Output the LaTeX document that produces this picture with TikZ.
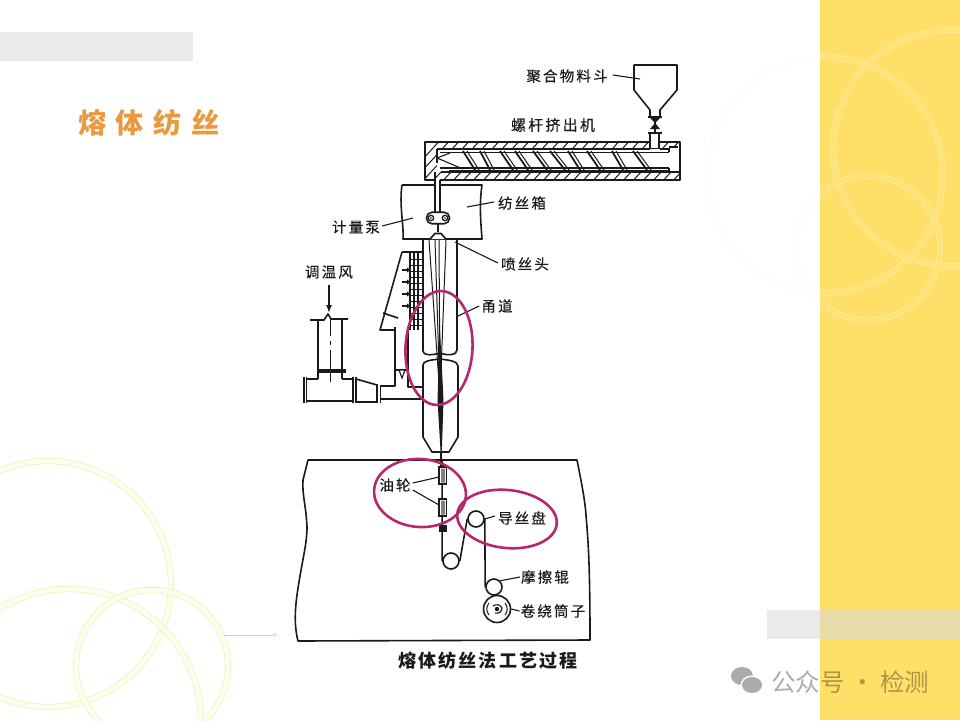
\documentclass[tikz,border=0pt]{standalone}
\usepackage{fontspec}
\newfontfamily\cjk{Noto Sans CJK SC}
\newfontfamily\cjkl[LetterSpace=15,FakeBold=.25]{Noto Sans CJK SC}
\usetikzlibrary{arrows.meta}
\definecolor{panel}{HTML}{FEE069}
\definecolor{ink}{HTML}{1A1A1A}
\definecolor{ringm}{HTML}{B5286E}
\definecolor{titleor}{HTML}{E99A40}
\definecolor{barg}{HTML}{EAEAEA}
\definecolor{bary}{HTML}{E8DCA8}
\definecolor{ringy}{HTML}{EDEFB0}
\definecolor{ringyin}{HTML}{FDFDEC}
\tikzset{
  mech/.style={draw=ink,line width=1.6pt,line join=round},
  fine/.style={draw=ink,line width=1pt},
  leader/.style={draw=ink,line width=1.1pt},
  lbl/.style={font=\cjkl\fontsize{14.5}{15}\selectfont,text=ink,inner sep=1pt},
  redring/.style={draw=ringm,line width=2.6pt},
  leftring/.style={draw=ringy,line width=.6pt,double=ringyin,double distance=5pt},
  sidering/.style={draw=panel!60!white,line width=.7pt,double=panel!90!white,double distance=4pt},
  rollr/.style={circle,draw=ink,line width=1.6pt,fill=white,inner sep=0pt,minimum size=#1},
}
\begin{document}
\begin{tikzpicture}[x=1pt,y=-1pt]
\useasboundingbox (0,0) rectangle (960,720);
\fill[white] (0,0) rectangle (960,720);
% faint rings on the white area
\draw[draw=black!.8,line width=5pt] (825,175) circle (118);
\draw[draw=black!.8,line width=5pt] (868,248) circle (72);
% yellow panel
\fill[panel] (820,0) rectangle (960,720);
\begin{scope}
\clip (820,0) rectangle (960,720);
\draw[sidering] (825,175) circle (118);
\draw[sidering] (951,148) circle (118);
\draw[sidering] (868,248) circle (72);
\end{scope}
% grey bars
\fill[barg] (0,32) rectangle (193,61);
\fill[barg] (767,610) rectangle (820,639);
\fill[bary] (820,610) rectangle (960,639);
% left rings
\draw[leftring] (48,584) circle (123);
\draw[leftring] (69,721) circle (132);
\draw[leftring] (152,666) circle (76);
\draw[draw=ringy!75!olive,line width=1pt] (224,635) -- (275,635);
\fill[ringy] (275,635) circle (2);
% page title
\node[font=\cjk\bfseries\fontsize{28}{30}\selectfont,text=titleor,inner sep=0pt] (pagetitle) at (149,123) {熔\hspace{10pt}体\hspace{10pt}纺\hspace{10pt}丝};

% ---- paper outline
\draw[mech] (308,460) -- (577,460)
  .. controls (581,480) and (585,500) .. (586,515)
  .. controls (588,540) and (590,560) .. (590,640)
  -- (298,641)
  .. controls (294,625) and (295,610) .. (297,595)
  .. controls (302,560) and (307,545) .. (307,527)
  .. controls (306,505) and (302,495) .. (303,480)
  -- cycle;

% ---- hopper
\draw[mech] (634,90) -- (634,65) -- (677,65) -- (677,90) -- (660,110) -- (660,116)
  (634,90) -- (650,110) -- (650,116);
% valve
\draw[mech] (648,117) -- (662,117) (648,133) -- (662,133) (655,118)--(655,133);
\fill[ink] (655,123) -- (650,118) -- (660,118) -- cycle;
\fill[ink] (655,123) -- (650,129) -- (660,129) -- cycle;

% ---- extruder: hatching
\begin{scope}
\clip (425,142) rectangle (680,149) (425,172) rectangle (680,180) (425,142) rectangle (437,180);
\foreach \x in {400,410,...,700}{ \draw[fine] (\x+44,136) -- (\x,184); }
\end{scope}
\fill[white] (437,149.5) rectangle (679,171.5);
\fill[white] (669,148) rectangle (679,172);
\draw[mech] (425,142) rectangle (680,180);
\draw[mech] (437,149) -- (650,149) (660,149) -- (669,149);
\draw[mech] (441,172) -- (680,172);
\draw[mech] (437,149) -- (437,163);
% feed throat
\fill[white,draw=ink,line width=1.6pt] (650,133) rectangle (659,148.5);
% right end of the barrel
\draw[mech] (669,148) -- (669,152) (669,168) -- (669,172) (669,147) -- (678,147);
% screw
\draw[mech,line width=1.3pt] (440,152.5) -- (669,152.5);
\draw[mech,line width=1.3pt] (440,168) -- (669,168);
\draw[fine] (449,170) -- (669,170);
\draw[mech,line width=1.1pt] (437,158) -- (450,153) (437,158) -- (463,169);
\foreach \a/\b in {463/475,480/490,500/513,515/528,533/547,550/565,568/580,587/600,612/623,633/647}{
  \draw[mech,line width=1.8pt] (\a,151) -- (\b,170);
  \draw[fine] (\a+4,151) -- (\b+4,170);
}
% ---- spinning box
\draw[mech] (402,185) -- (482,185) .. controls (479,205) and (481,225) .. (482,239) -- (403,239)
  .. controls (404,225) and (399,205) .. (402,185);
% melt pipe
\fill[white] (435,179) rectangle (440,214);
\draw[mech] (435,172) -- (435,213) (440,180) -- (440,213);
% pump
\node[draw=ink,line width=1.6pt,fill=white,rounded corners=5.5pt,minimum width=23pt,minimum height=11.5pt,inner sep=0pt] (pump) at (438,218) {};
\draw[mech,line width=1.3pt] (431,218) circle (2.7) (445,218) circle (2.7);
\fill[ink] (431,218) circle (.9) (445,218) circle (.9);
% spinneret
\draw[mech] (438,224) -- (438,232);
\fill[white,draw=ink,line width=1.6pt] (430,239) -- (435,233.5) -- (441,233.5) -- (446,239);

% ---- quench box
\draw[mech] (402,252) -- (423,252) (402,252) -- (380,330) -- (395,330);
\draw[mech] (383,313) -- (398,318);
\draw[mech] (395,327) -- (395,386) -- (380,386);
\draw[mech] (408,332) -- (408,387) -- (423,387);
\draw[mech] (381,399) -- (423,399);
\foreach \x in {410,414,418}{\draw[mech,line width=1.3pt] (\x,252) -- (\x,330);}
\foreach \y in {259,265,271,277,283,289,295,301,307,313,319,325}{\draw[fine,line width=.8pt] (410,\y) -- (423,\y);}
\foreach \y in {270,282,294,306}{
  \draw[ink,line width=2.2pt,-{Latex[length=4pt,width=5.5pt]}] (402,\y) -- (411,\y);
}
% damper
\draw[mech] (396,370) -- (408,370);
\fill[white,draw=ink,line width=1.1pt] (399,370) -- (405,370) -- (402,378) -- cycle;

% ---- air duct
\draw[mech] (318,379) -- (318,320) (310,320) -- (324,320) -- (328,314) -- (331,319) -- (348,319) (342,320) -- (342,379);
\draw[ink,line width=1.4pt,-{Latex[length=8pt,width=6pt]}] (329,285) -- (329,313);
\draw[fine] (330,319) -- (330,336) (330,341) -- (330,345) (330,350) -- (330,382);
\draw[ink,line width=3.4pt] (317,371) -- (346,371);
\draw[mech] (306,379) -- (318,379) (342,379) -- (353,379);
\draw[mech] (306,401) -- (353,401);
\draw[mech] (304,377) -- (304,403) (306.5,377) -- (306.5,403);
\draw[mech] (353,377) -- (353,403) (356,377) -- (356,403);
\draw[mech] (356,379) -- (377,385) (356,402) -- (377,402);
\draw[mech] (377,384) -- (377,403) (380.5,386) -- (380.5,403);

% ---- spinning chimney (top tube)
\draw[mech] (423,239) -- (423,351) .. controls (423,355) and (430,356) .. (440,353)
  .. controls (448,356) and (457,355) .. (457,350) -- (457,239);
% lower tube
\filldraw[fill=white,mech] (423,365) .. controls (423,361) and (430,360) .. (440,359)
   .. controls (448,360) and (458,361) .. (458,366)
   -- (458,437) -- (449,452) -- (432,452) -- (423,437) -- cycle;
% filaments
\draw[fine] (429,240) -- (440,397) (435,240) -- (440,397) (439,240) -- (440,397) (446,240) -- (440,397);
\fill[ink] (440,330) -- (443.5,400) -- (441.8,452) -- (440.6,452) -- (437.5,400) -- cycle;
\draw[mech] (441,452) -- (441,467);

% ---- lower path
\node[rollr=16pt] (bottomroll) at (451,561) {};
\node[rollr=16pt] (godet) at (476,519) {};
\node[rollr=27pt] (winder) at (497,609) {};
\node[rollr=16pt] (friction) at (494,587) {};
\draw[mech] (442,460) -- (bottomroll.west);
\draw[mech] (bottomroll.east) -- (godet.west);
\draw[mech] (godet.east) -- (friction.west);
\fill[white,draw=ink,line width=1.3pt] (439,467) rectangle (446.5,484);
\fill[white,draw=ink,line width=1.3pt] (439,499) rectangle (446.5,516);
\fill[gray] (441,468.5) rectangle (445,482.5) (441,500.5) rectangle (445,514.5);
\fill[ink] (439,525) rectangle (446.5,532);
\draw[ink,line width=1pt] (489,603) .. controls (486,607) and (486,611) .. (489,615)
  (505,603) .. controls (508,607) and (508,611) .. (505,615);
\draw[ink,line width=1.1pt] (493,606) .. controls (496,604) and (500,604) .. (502,608)
  .. controls (502,612) and (498,614) .. (495,613);
\fill[ink] (497,609) circle (2.2);

% ---- labels and leaders
\node[lbl] (lhopper) at (567,76) {聚合物料斗};
\coordinate (thopper) at (640,79);
\draw[leader] (lhopper.east) ++(4,-1) -- (thopper);
\node[lbl,font=\cjkl\fontsize{15}{15}\selectfont] (lextruder) at (553,125) {螺杆挤出机};
\node[lbl] (lbox) at (522,203) {纺丝箱};
\coordinate (tbox) at (467,207);
\draw[leader] (lbox.west) ++(-3,-1) -- (tbox);
\node[lbl] (lpump) at (356,227) {计量泵};
\coordinate (tpump) at (413,218);
\draw[leader] (lpump.east) ++(1,-1) -- (tpump);
\node[lbl] (lhead) at (525,264) {喷丝头};
\coordinate (thead) at (455,242);
\draw[leader] (lhead.west) ++(-2,-1) -- (thead);
\node[lbl] (lair) at (329,272) {调温风};
\node[lbl] (lchannel) at (497,306) {甬道};
\coordinate (tchannel) at (458,316);
\draw[leader] (lchannel.west) ++(-1,0) -- (tchannel);
\node[lbl] (loil) at (395,485) {油轮};
\coordinate (toila) at (439,477);
\coordinate (toilb) at (439,505);
\draw[leader] (loil.east) ++(1,-2) -- (toila);
\draw[leader] (loil.east) ++(1,5) -- (toilb);
\node[lbl] (lgodet) at (522,518) {导丝盘};
\draw[leader] (lgodet.west) ++(-2,-2) -- (godet.east);
\node[lbl] (lfriction) at (545,577) {摩擦辊};
\draw[leader] (lfriction.west) -- (friction.north east);
\node[lbl] (lwinder) at (553,611) {卷绕筒子};
\draw[leader] (lwinder.west) -- (winder.east);
\node[lbl,font=\cjk\bfseries\fontsize{18}{18}\selectfont,inner sep=0pt] (lcaption) at (488,661) {熔\hspace{2.2pt}体\hspace{2.2pt}纺\hspace{2.2pt}丝\hspace{2.2pt}法\hspace{2.2pt}工\hspace{2.2pt}艺\hspace{2.2pt}过\hspace{2.2pt}程};

% ---- magenta highlights
\draw[redring,rotate around={-3:(439,348)}] (439,348) ellipse (33.5 and 57);
\draw[redring,rotate around={-4:(420,493)}] (420,493) ellipse (46 and 34);
\draw[redring,rotate around={-6:(507,519)}] (507,519) ellipse (50 and 29);

% ---- watermark
\fill[black,opacity=.33] (742,676) ellipse (11 and 9);
\fill[white] (752,685) ellipse (11.5 and 9.5);
\fill[black,opacity=.33] (752,685) ellipse (10 and 8);
\node[font=\cjk\fontsize{24.5}{25}\selectfont,text=black,text opacity=.33,inner sep=0pt] (wm) at (850,682) {公众号 · 检测};
\end{tikzpicture}
\end{document}
